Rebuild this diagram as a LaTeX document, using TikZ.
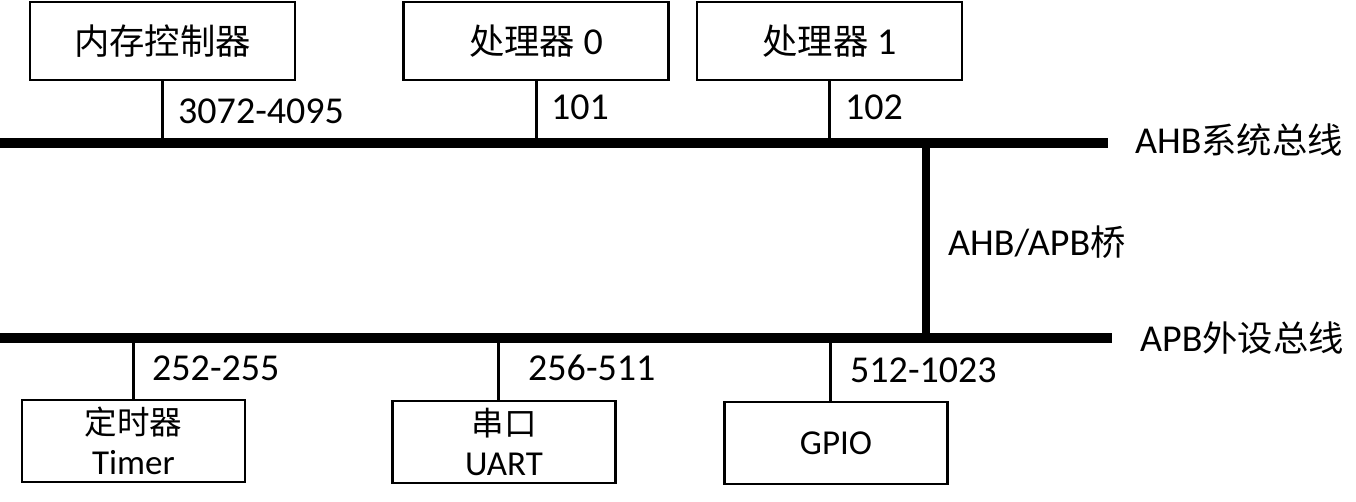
\documentclass[tikz,border=0pt]{standalone}
\usepackage{fontspec}
\setmainfont{Carlito}
\newfontfamily\cjk[Scale=0.93]{Noto Sans CJK SC}
\usetikzlibrary{positioning}

\begin{document}
\begin{tikzpicture}[x=1pt, y=-1pt,
			unit/.style={draw, line width=2.5pt, minimum width=265pt, minimum height=78pt, inner sep=0pt, font=\fontsize{38}{40}\selectfont},
			dev/.style={draw, line width=2.5pt, minimum width=223pt, minimum height=82pt, inner sep=0pt, align=center, font=\fontsize{35}{40}\selectfont},
			bus/.style={line width=10pt},
			stem/.style={line width=3pt},
			addr/.style={anchor=west, inner sep=0pt, font=\fontsize{38}{40}\selectfont}]
			\useasboundingbox (0,0) rectangle (1356,502);
			
			\node[unit] (mem) at (162.5,41) {{\cjk 内存控制器}};
			\node[unit, right = 106pt of mem] (cpu0) {{\cjk 处理器} 0};
			\node[unit, right = 26pt of cpu0] (cpu1) {{\cjk 处理器} 1};
			
			\node[dev] (timer) at (133.5,441) {{\cjk 定时器}\\Timer};
			\node[dev] (uart) at (504,442) {{\cjk 串口}\\UART};
			\node[dev] (gpio) at (836,443) {GPIO};
			
			\coordinate (ahbW) at (0,143);
			\coordinate (ahbE) at (1108,143);
			\coordinate (apbW) at (0,338);
			\coordinate (apbE) at (1112,338);
			\coordinate (brgN) at (926,143);
			\coordinate (brgS) at (926,338);
			
			\draw[bus] (ahbW) -- (ahbE);
			\draw[bus] (apbW) -- (apbE);
			\draw[line width=8pt] (brgN) -- (brgS);
			
			\draw[stem] (mem.south) -- (mem.south |- ahbW);
			\draw[stem] (cpu0.south) -- (cpu0.south |- ahbW);
			\draw[stem] (cpu1.south) -- (cpu1.south |- ahbW);
			\draw[stem] (timer.north) -- (timer.north |- apbW);
			\draw[stem] ([xshift=-6pt]uart.north) -- ([xshift=-6pt]uart.north |- apbW);
			\draw[stem] ([xshift=-6pt]gpio.north) -- ([xshift=-6pt]gpio.north |- apbW);
			
			\node[addr] (memaddr) at (178,111) {3072-4095};
			\node[addr] (cpu0addr) at (551,107) {101};
			\node[addr] (cpu1addr) at (845,107) {102};
			\node[addr] (timeraddr) at (152,368) {252-255};
			\node[addr] (uartaddr) at (528,368) {256-511};
			\node[addr] (gpioaddr) at (850,370) {512-1023};
			
			\node[addr] (ahblabel) at (1135,140) {AHB{\cjk 系统总线}};
			\node[addr] (brglabel) at (948,242) {AHB/APB{\cjk 桥}};
			\node[addr] (apblabel) at (1140,338) {APB{\cjk 外设总线}};
			\end{tikzpicture}
\end{document}
